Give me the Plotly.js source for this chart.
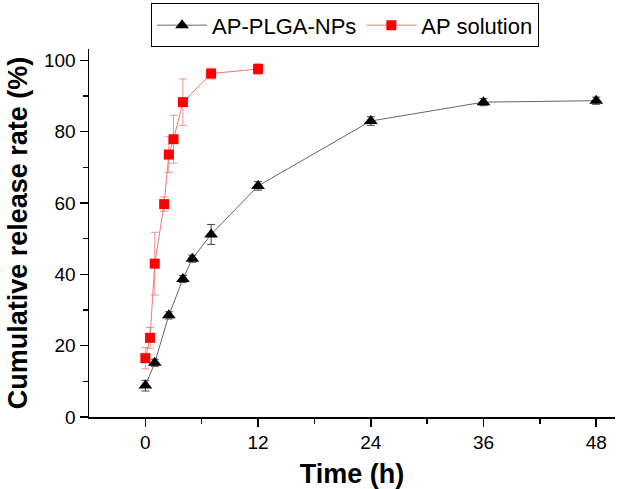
<!DOCTYPE html>
<html>
<head>
<meta charset="utf-8">
<script src="https://cdn.plot.ly/plotly-3.0.1.min.js"></script>
<style>html,body{margin:0;padding:0;background:#fff;}#chart{width:618px;height:489px;}</style>
</head>
<body>
<div id="chart"></div>
<script>
// AP-PLGA-NPs
const npTime = [0, 1, 2.5, 4, 5, 7, 12, 24, 36, 48];
const npRelease = [8.8, 15.2, 28.5, 38.7, 44.4, 51.2, 64.8, 83.0, 88.3, 88.7];
const npError = [1.5, 1.0, 1.0, 1.0, 1.0, 2.8, 1.2, 1.2, 1.0, 1.0];
// AP solution
const solTime = [0, 0.5, 1, 2, 2.5, 3, 4, 7, 12];
const solRelease = [16.5, 22.2, 43.0, 59.7, 73.6, 77.9, 88.3, 96.3, 97.6];
const solError = [3.0, 2.9, 8.8, 2.0, 5.0, 6.7, 6.5, 1.5, 1.5];

const xTicks = [0, 12, 24, 36, 48];
const yTicks = [0, 20, 40, 60, 80, 100];

const FONT = 'Liberation Sans, Arial, Helvetica, sans-serif';

const traces = [
  {
    x: npTime, y: npRelease, name: 'AP-PLGA-NPs', type: 'scatter', mode: 'lines+markers',
    line: {color: '#666666', width: 1},
    marker: {symbol: 'triangle-up', size: 12, color: '#000000'},
    error_y: {type: 'data', array: npError, visible: true, color: '#444444', thickness: 1, width: 4}
  },
  {
    x: solTime, y: solRelease, name: 'AP solution', type: 'scatter', mode: 'lines+markers',
    line: {color: '#f07878', width: 1},
    marker: {symbol: 'square', size: 10, color: '#ff0000'},
    error_y: {type: 'data', array: solError, visible: true, color: '#f49090', thickness: 1, width: 4}
  }
];

const layout = {
  width: 618, height: 489,
  margin: {l: 89, r: 3, t: 47, b: 72},
  paper_bgcolor: '#ffffff', plot_bgcolor: '#ffffff',
  font: {family: FONT, color: '#000000', size: 19},
  showlegend: true,
  legend: {
    orientation: 'h', x: 0.118, y: 1.124, xanchor: 'left', yanchor: 'top',
    bordercolor: '#000000', borderwidth: 1, bgcolor: '#ffffff',
    font: {family: FONT, size: 22, color: '#000000'},
    itemwidth: 50, tracegroupgap: 0
  },
  xaxis: {
    range: [-6, 50], tickvals: xTicks, ticktext: xTicks.map(String),
    showgrid: false, zeroline: false, showline: true, linecolor: '#000000', linewidth: 1.5,
    ticks: 'outside', ticklen: 8, tickwidth: 1.5, tickcolor: '#000000',
    minor: {tickvals: [6, 18, 30, 42], ticks: 'outside', ticklen: 5, tickwidth: 1.5, tickcolor: '#000000'},
    tickfont: {family: FONT, size: 19},
    title: {text: '<b>Time (h)</b>', font: {family: FONT, size: 27}, standoff: 14}
  },
  yaxis: {
    range: [0, 103.2], tickvals: yTicks, ticktext: yTicks.map(String),
    showgrid: false, zeroline: false, showline: true, linecolor: '#000000', linewidth: 1.5,
    ticks: 'outside', ticklen: 8, tickwidth: 1.5, tickcolor: '#000000',
    minor: {tickvals: [10, 30, 50, 70, 90], ticks: 'outside', ticklen: 5, tickwidth: 1.5, tickcolor: '#000000'},
    tickfont: {family: FONT, size: 19},
    title: {text: '<b>Cumulative release rate (%)</b>', font: {family: FONT, size: 27}, standoff: 8}
  }
};

Plotly.newPlot('chart', traces, layout, {displayModeBar: false, staticPlot: true});
</script>
</body>
</html>
